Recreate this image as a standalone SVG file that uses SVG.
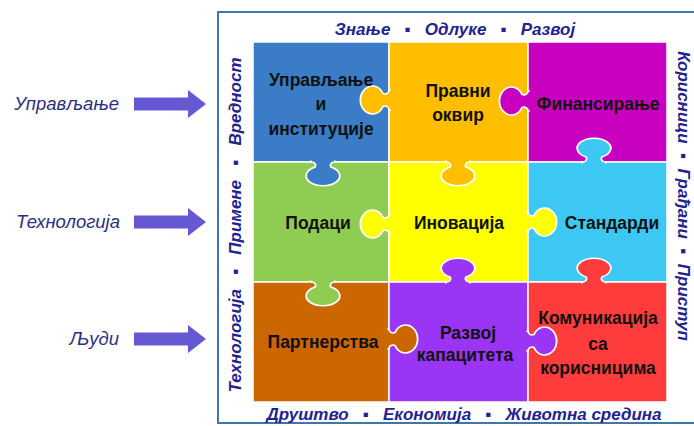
<svg xmlns="http://www.w3.org/2000/svg" width="694" height="426" viewBox="0 0 694 426">
<style>
.tile{stroke:#ffffff;stroke-width:1.5}
.knob{stroke:#ffffff;stroke-width:1.5;vector-effect:non-scaling-stroke}
.lbl{font-family:"Liberation Sans",Arial,sans-serif;font-weight:bold;font-size:17.5px;fill:#111111;text-anchor:middle}
.frame{font-family:"Liberation Sans",Arial,sans-serif;font-style:italic;font-weight:bold;font-size:17px;fill:#23238f;text-anchor:middle;white-space:pre}
.side{font-family:"Liberation Sans",Arial,sans-serif;font-style:italic;font-size:18.5px;fill:#2c2f7e;text-anchor:end}
.arrow{fill:#6657d3}
</style>
<defs>
<path id="knob" d="M -10,-1.5 L -10,0 C -6.5,0 -5.5,2.5 -6.5,5 A 14 10 0 1 0 6.5,5 C 5.5,2.5 6.5,0 10,0 L 10,-1.5"/>
<path id="arr" d="M 0,-6.5 L 54,-6.5 L 54,-14 L 72,0 L 54,14 L 54,6.5 L 0,6.5 Z"/>
</defs>
<rect width="694" height="426" fill="#ffffff"/>
<rect x="218" y="12" width="480" height="411" fill="#ffffff" stroke="#3b78a8" stroke-width="2"/>

<g id="side-labels">
<text class="side" x="119" y="110">Управљање</text>
<text class="side" x="120" y="228">Технологија</text>
<text class="side" x="119" y="345">Људи</text>
</g>

<g id="connectors">
<use href="#arr" class="arrow" transform="translate(134,104)"/>
<use href="#arr" class="arrow" transform="translate(134,222)"/>
<use href="#arr" class="arrow" transform="translate(134,339)"/>
</g>

<g id="frame-labels">
<text class="frame" x="455" y="35">Знање   ▪   Одлуке   ▪   Развој</text>
<text class="frame" x="464" y="420">Друштво   ▪   Економија   ▪   Животна средина</text>
<text class="frame" transform="translate(241,225) rotate(-90)">Технологија   ▪   Примене   ▪   Вредност</text>
<text class="frame" transform="translate(678,196) rotate(90)">Корисници  ▪  Грађани  ▪  Приступ</text>
</g>

<g id="tiles">
<rect id="t-upravljanje" class="tile" x="253" y="42" width="136" height="120" fill="#3a7dc6"/>
<rect id="t-pravni" class="tile" x="389" y="42" width="139" height="120" fill="#ffbf00"/>
<rect id="t-finansiranje" class="tile" x="528" y="42" width="139" height="120" fill="#c800c0"/>
<rect id="t-podaci" class="tile" x="253" y="162" width="136" height="120" fill="#8fcc52"/>
<rect id="t-inovacija" class="tile" x="389" y="162" width="139" height="120" fill="#ffff00"/>
<rect id="t-standardi" class="tile" x="528" y="162" width="139" height="120" fill="#3cc8f2"/>
<rect id="t-partnerstva" class="tile" x="253" y="282" width="136" height="120" fill="#cc6600"/>
<rect id="t-razvoj" class="tile" x="389" y="282" width="139" height="120" fill="#9a35f5"/>
<rect id="t-komunikacija" class="tile" x="528" y="282" width="139" height="120" fill="#ff3c3c"/>
</g>

<g id="knobs">
<use href="#knob" class="knob" fill="#ffbf00" transform="translate(389,100) scale(1.2,1) rotate(90)"/>
<use href="#knob" class="knob" fill="#c800c0" transform="translate(528,101) scale(1.2,1) rotate(90)"/>
<use href="#knob" class="knob" fill="#3a7dc6" transform="translate(323,162) scale(1.2,1)"/>
<use href="#knob" class="knob" fill="#3cc8f2" transform="translate(594,162) scale(1.2,1) rotate(180)"/>
<use href="#knob" class="knob" fill="#ffbf00" transform="translate(458,162) scale(1.2,1)"/>
<use href="#knob" class="knob" fill="#ffff00" transform="translate(389,224) scale(1.2,1) rotate(90)"/>
<use href="#knob" class="knob" fill="#ffff00" transform="translate(528,222) scale(1.2,1) rotate(-90)"/>
<use href="#knob" class="knob" fill="#9a35f5" transform="translate(458,282) scale(1.2,1) rotate(180)"/>
<use href="#knob" class="knob" fill="#ff3c3c" transform="translate(594,282) scale(1.2,1) rotate(180)"/>
<use href="#knob" class="knob" fill="#8fcc52" transform="translate(323,282) scale(1.2,1)"/>
<use href="#knob" class="knob" fill="#cc6600" transform="translate(389,339) scale(1.2,1) rotate(-90)"/>
<use href="#knob" class="knob" fill="#9a35f5" transform="translate(528,341) scale(1.2,1) rotate(-90)"/>
</g>

<g id="n-upravljanje"><text class="lbl" x="321" y="86">Управљање</text><text class="lbl" x="321" y="110">и</text><text class="lbl" x="321" y="135">институције</text></g>
<g id="n-pravni"><text class="lbl" x="458" y="97">Правни</text><text class="lbl" x="458" y="121">оквир</text></g>
<g id="n-finansiranje"><text class="lbl" x="598" y="110">Финансирање</text></g>
<g id="n-podaci"><text class="lbl" x="318" y="229">Подаци</text></g>
<g id="n-inovacija"><text class="lbl" x="459" y="229">Иновација</text></g>
<g id="n-standardi"><text class="lbl" x="612" y="229">Стандарди</text></g>
<g id="n-partnerstva"><text class="lbl" x="323" y="348">Партнерства</text></g>
<g id="n-razvoj"><text class="lbl" x="468" y="339">Развој</text><text class="lbl" x="465" y="361">капацитета</text></g>
<g id="n-komunikacija"><text class="lbl" x="598" y="324">Комуникација</text><text class="lbl" x="598" y="350">са</text><text class="lbl" x="598" y="374">корисницима</text></g>
</svg>
